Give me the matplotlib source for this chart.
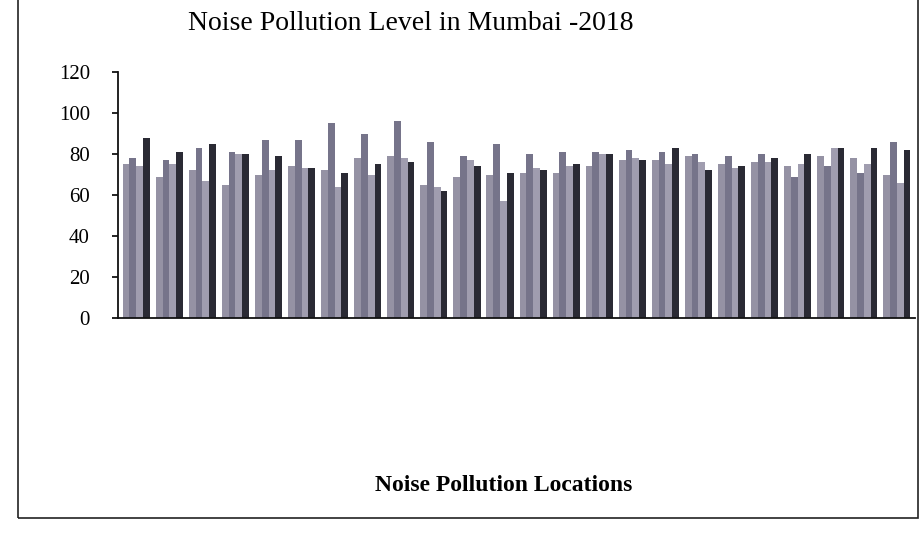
import numpy as np
import matplotlib.pyplot as plt
from matplotlib.patches import Rectangle

# 24 monitoring locations, four readings each
locations = [f"L{i}" for i in range(1, 25)]
series_a = [75, 69, 72, 65, 70, 74, 72, 78, 79, 65, 69, 70,
            71, 71, 74, 77, 77, 79, 75, 76, 74, 79, 78, 70]
series_b = [78, 77, 83, 81, 87, 87, 95, 90, 96, 86, 79, 85,
            80, 81, 81, 82, 81, 80, 79, 80, 69, 74, 71, 86]
series_c = [74, 75, 67, 80, 72, 73, 64, 70, 78, 64, 77, 57,
            73, 74, 80, 78, 75, 76, 73, 76, 75, 83, 75, 66]
series_d = [88, 81, 85, 80, 79, 73, 71, 75, 76, 62, 74, 71,
            72, 75, 80, 77, 83, 72, 74, 78, 80, 83, 83, 82]

serif = ["Liberation Serif", "DejaVu Serif"]

fig = plt.figure(figsize=(9.2, 5.33), dpi=100)
ax = fig.add_axes([0.128, 0.403, 0.867, 0.462])

x = np.arange(len(locations))
w = 0.205
colors = ["#9592a4", "#76748a", "#a09daf", "#2a2a34"]
for k, (vals, c) in enumerate(zip([series_a, series_b, series_c, series_d], colors)):
    ax.bar(x + (k - 1.5) * w, vals, width=w, color=c, edgecolor="none")

ax.set_ylim(0, 120)
ax.set_xlim(-0.56, len(locations) - 1 + 0.56)
ax.set_yticks(range(0, 121, 20))
ax.set_yticklabels([str(v) for v in range(0, 121, 20)], family=serif, fontsize=15)
ax.set_xticks([])
ax.tick_params(axis="y", length=4, width=1.2, pad=16)
for s in ["top", "right"]:
    ax.spines[s].set_visible(False)
for s in ["left", "bottom"]:
    ax.spines[s].set_linewidth(1.3)
    ax.spines[s].set_color("#111111")

fig.text(0.447, 0.955, "Noise Pollution Level in Mumbai -2018", ha="center", va="center",
         family=serif, fontsize=20)
fig.text(0.548, 0.09, "Noise Pollution Locations", ha="center", va="center",
         family=serif, fontsize=17, fontweight="bold")

# frame around the chart area (top edge is cut off in the scan)
fig.patches.append(Rectangle((18 / 920, 15 / 533), 900 / 920, 530 / 533,
                             transform=fig.transFigure, fill=False,
                             edgecolor="#222222", linewidth=1.2))

fig.savefig("out.png", dpi=100)
